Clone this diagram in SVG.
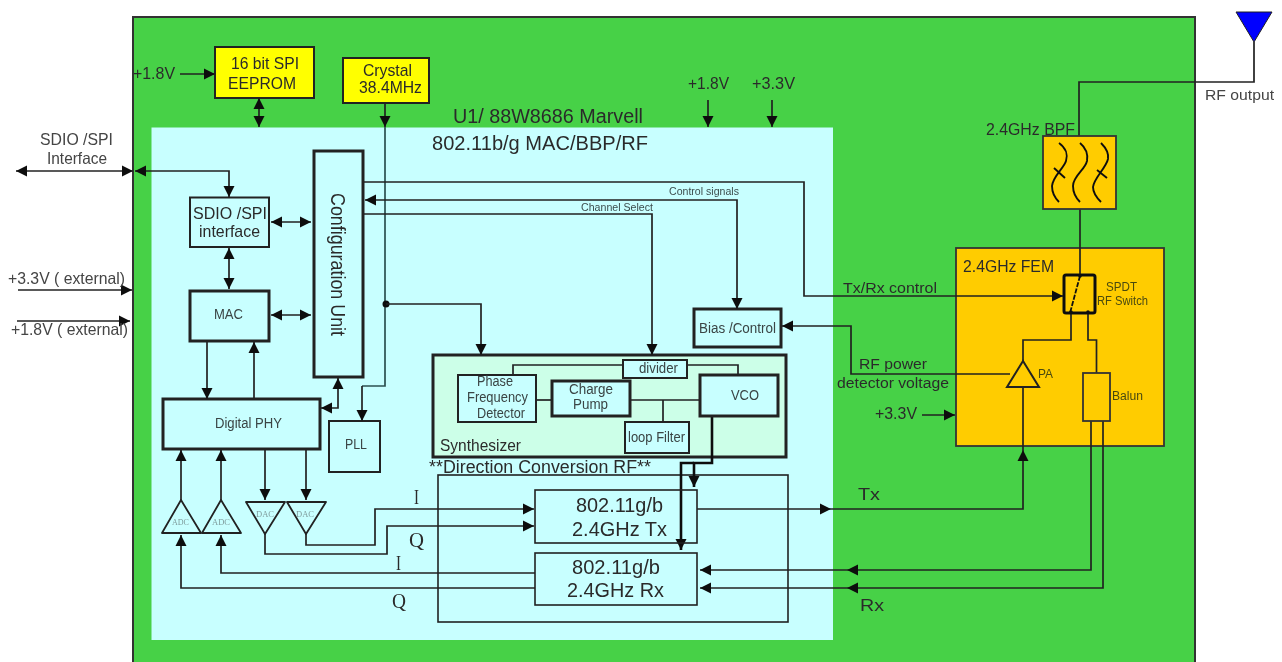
<svg xmlns="http://www.w3.org/2000/svg" width="1282" height="662" viewBox="0 0 1282 662">
<style>
text{font-family:"Liberation Sans",Arial,sans-serif;fill:#2b2b2b}
.s{font-family:"Liberation Serif","Times New Roman",serif}
.f9{font-size:10px;fill:#3d4d4d}.f11{font-size:12px;fill:#4a4a10}.f13{font-size:14px;fill:#3a4444}.f14{font-size:15.500px}.f15{font-size:16.500px}.f16{font-size:17px}.f17{font-size:18px}.f18{font-size:20px}
.tiny{font-family:"Liberation Serif",serif;font-size:9px;fill:#7f9c9c}
.box{fill:#c8ffff;stroke:#222;stroke-width:2}
.thick{stroke-width:3}
.y{fill:#ffff00;stroke:#222;stroke-width:2}
.o{fill:#ffcc00;stroke:#333;stroke-width:1.800}
.w{fill:none;stroke:#222;stroke-width:1.700}
.w2{fill:none;stroke:#111;stroke-width:2.600}
.a{marker-end:url(#ah)}
.aa{marker-start:url(#ah);marker-end:url(#ah)}
.tri{fill:none;stroke:#222;stroke-width:1.800;stroke-linejoin:round}
</style>
<defs>
<marker id="ah" markerUnits="userSpaceOnUse" markerWidth="12" markerHeight="12" refX="11" refY="6" orient="auto-start-reverse"><path d="M0,0.500L11,6L0,11.500Z" fill="#111"/></marker>
<filter id="soft" filterUnits="userSpaceOnUse" x="-20" y="-20" width="1322" height="720"><feGaussianBlur stdDeviation="0.650"/></filter>
</defs>
<rect width="1282" height="662" fill="#ffffff"/>
<g filter="url(#soft)">
<g id="board"><rect x="133" y="17" width="1062" height="665" fill="#47d147" stroke="#333" stroke-width="2"/>
<text class="f18" x="453" y="123" textLength="190" lengthAdjust="spacingAndGlyphs">U1/ 88W8686 Marvell</text></g>
<g id="chip"><rect x="151.500" y="127.500" width="681.500" height="512.500" fill="#c8ffff"/>
<text class="f18" x="432" y="150" textLength="216" lengthAdjust="spacingAndGlyphs">802.11b/g MAC/BBP/RF</text></g>

<g id="fem"><rect class="o" x="956" y="248" width="208" height="198"/><text class="f15" x="963" y="272" textLength="91" lengthAdjust="spacingAndGlyphs">2.4GHz FEM</text></g>

<g id="eeprom"><rect class="y" x="215" y="47" width="99" height="51"/><text class="f16" x="231" y="69" textLength="68" lengthAdjust="spacingAndGlyphs">16 bit SPI</text><text class="f16" x="228" y="89" textLength="68" lengthAdjust="spacingAndGlyphs">EEPROM</text></g>
<g id="crystal"><rect class="y" x="343" y="58" width="86" height="45"/><text class="f16" x="363" y="76" textLength="49" lengthAdjust="spacingAndGlyphs">Crystal</text><text class="f16" x="359" y="93" textLength="63" lengthAdjust="spacingAndGlyphs">38.4MHz</text></g>
<g id="sdio-box"><rect class="box" x="190" y="197.500" width="79" height="49.500"/><text class="f16" x="193" y="219" textLength="74" lengthAdjust="spacingAndGlyphs">SDIO /SPI</text><text class="f16" x="199" y="237" textLength="61" lengthAdjust="spacingAndGlyphs">interface</text></g>
<g id="mac"><rect class="box thick" x="190" y="291" width="79" height="50"/><text class="f13" x="214" y="319" textLength="29" lengthAdjust="spacingAndGlyphs">MAC</text></g>
<g id="config"><rect class="box thick" x="314" y="151" width="49" height="226"/><text class="f18" transform="translate(331,193) rotate(90)" textLength="143" lengthAdjust="spacingAndGlyphs">Configuration Unit</text></g>
<g id="digital-phy"><rect class="box thick" x="163" y="399" width="157" height="50"/><text class="f13" x="215" y="428" textLength="67" lengthAdjust="spacingAndGlyphs">Digital PHY</text></g>
<g id="pll"><rect class="box" x="329" y="421" width="51" height="51"/><text class="f13" x="345" y="449" textLength="22" lengthAdjust="spacingAndGlyphs">PLL</text></g>
<g id="bias"><rect class="box thick" x="694" y="309" width="87" height="38"/><text class="f13" x="699" y="333" textLength="77" lengthAdjust="spacingAndGlyphs">Bias /Control</text></g>

<g id="synth"><rect class="box thick" style="fill:#ccffe8" x="433" y="355" width="353" height="102"/><text class="f15" x="440" y="451" textLength="81" lengthAdjust="spacingAndGlyphs">Synthesizer</text></g>
<g id="direct"><rect fill="none" stroke="#222" stroke-width="1.600" x="438" y="475" width="350" height="147"/><text class="f17" x="429" y="473" textLength="222" lengthAdjust="spacingAndGlyphs">**Direction Conversion RF**</text></g>

<g id="connectors">
<path class="w a" d="M180,74H215"/>
<path class="w aa" d="M259,98V127"/>
<path class="w a" d="M385,103V127"/>
<path class="w" style="stroke:#2c5050" d="M385,127V386H362"/>
<path class="w a" d="M362,386V421"/>
<circle cx="386" cy="304" r="3.500" fill="#111"/>
<path class="w a" d="M386,304H481V355"/>
<path class="w aa" d="M16,171H133"/>
<path class="w aa" d="M135,171H229V197"/>
<path class="w aa" d="M271,222H311"/>
<path class="w aa" d="M229,248V289"/>
<path class="w aa" d="M271,315H311"/>
<path class="w a" d="M18,290H132"/>
<path class="w a" d="M17,321H130"/>
<path class="w a" d="M207,342V399"/>
<path class="w a" d="M254,399V342"/>
<path class="w aa" d="M321,408H338V378"/>
<path class="w a" d="M181,500V450"/>
<path class="w a" d="M221,500V450"/>
<path class="w a" d="M265,450V500"/>
<path class="w a" d="M306,450V500"/>
<path class="w a" d="M306,534V545H375V509H534"/>
<path class="w a" d="M265,534V554H387V526H534"/>
<path class="w a" d="M535,573H221V535"/>
<path class="w a" d="M535,588H181V535"/>
<path class="w a" d="M364,182H804V296H1063"/>
<path class="w aa" d="M365,200H737V309"/>
<path class="w a" d="M364,214H652V355"/>
<path class="w a" d="M708,100V127"/>
<path class="w a" d="M772,100V127"/>
<path class="w a" d="M1010,374H851V326H782"/>
<path class="w a" d="M922,415H955"/>
<path class="w" d="M1079,136V82H1254V42"/>
<path class="w" d="M1080,209V275"/>
<path class="w" d="M1071,313V340H1023V361"/>
<path class="w" d="M1088,313V340H1096.500V373"/>
<path class="w a" d="M697,509H831"/>
<path class="w a" d="M831,509H1023V450"/>
<path class="w" d="M1023,450V387"/>
<path class="w a" d="M1091,421V570H847"/>
<path class="w a" d="M847,570H700"/>
<path class="w a" d="M1103,421V588H847"/>
<path class="w a" d="M847,588H700"/>
<path class="w2 a" d="M712,416V463H694V487"/>
<path class="w2 a" d="M694,463H681V550"/>
<path class="w" d="M623,365H513V375"/>
<path class="w" d="M687,365H738V375"/>
<path class="w" d="M536,400H552"/>
<path class="w" d="M630,400H700"/>
<path class="w" d="M663,400V422"/>
</g>

<g id="phase"><rect class="box" x="458" y="375" width="78" height="47"/><text class="f13" x="477" y="386" textLength="36" lengthAdjust="spacingAndGlyphs">Phase</text><text class="f13" x="467" y="402" textLength="61" lengthAdjust="spacingAndGlyphs">Frequency</text><text class="f13" x="477" y="418" textLength="48" lengthAdjust="spacingAndGlyphs">Detector</text></g>
<g id="charge"><rect class="box thick" x="552" y="381" width="78" height="35"/><text class="f13" x="569" y="394" textLength="44" lengthAdjust="spacingAndGlyphs">Charge</text><text class="f13" x="573" y="409" textLength="35" lengthAdjust="spacingAndGlyphs">Pump</text></g>
<g id="vco"><rect class="box thick" x="700" y="375" width="78" height="41"/><text class="f13" x="731" y="400" textLength="28" lengthAdjust="spacingAndGlyphs">VCO</text></g>
<g id="divider"><rect class="box" x="623" y="360" width="64" height="18"/><text class="f13" x="639" y="373" textLength="39" lengthAdjust="spacingAndGlyphs">divider</text></g>
<g id="loop"><rect class="box" x="625" y="422" width="64" height="31"/><text class="f13" x="628" y="442" textLength="57" lengthAdjust="spacingAndGlyphs">loop Filter</text></g>
<g id="tx"><rect fill="none" stroke="#222" stroke-width="1.600" x="535" y="490" width="162" height="53"/><text class="f18" x="576" y="512" textLength="87" lengthAdjust="spacingAndGlyphs">802.11g/b</text><text class="f18" x="572" y="536" textLength="95" lengthAdjust="spacingAndGlyphs">2.4GHz Tx</text></g>
<g id="rx"><rect fill="#c8ffff" stroke="#222" stroke-width="1.600" x="535" y="553" width="162" height="52"/><text class="f18" x="572" y="574" textLength="88" lengthAdjust="spacingAndGlyphs">802.11g/b</text><text class="f18" x="567" y="597" textLength="97" lengthAdjust="spacingAndGlyphs">2.4GHz Rx</text></g>

<g id="adc1"><path class="tri" d="M181,500L162,533H201Z"/><text class="tiny" x="172" y="525" textLength="17" lengthAdjust="spacingAndGlyphs">ADC</text></g>
<g id="adc2"><path class="tri" d="M221,500L202,533H241Z"/><text class="tiny" x="212" y="525" textLength="18" lengthAdjust="spacingAndGlyphs">ADC</text></g>
<g id="dac1"><path class="tri" d="M246,502H285L265,534Z"/><text class="tiny" x="256" y="517" textLength="18" lengthAdjust="spacingAndGlyphs">DAC</text></g>
<g id="dac2"><path class="tri" d="M287,502H326L306,534Z"/><text class="tiny" x="296" y="517" textLength="18" lengthAdjust="spacingAndGlyphs">DAC</text></g>

<g id="bpf"><rect class="o" x="1043" y="136" width="73" height="73"/>
<text class="f15" x="986" y="135" textLength="89" lengthAdjust="spacingAndGlyphs">2.4GHz BPF</text>
<path fill="none" stroke="#111" stroke-width="1.900" d="M1059,143C1066,148 1068,155 1066,161C1064,168 1053,176 1052,186C1052,193 1055,198 1059,202M1054,168L1065,178M1080,143C1086,148 1088,155 1087,161C1085,170 1073,176 1073,186C1073,193 1076,198 1080,202M1101,143C1106,148 1109,153 1108,159C1106,168 1094,178 1093,187C1093,193 1097,198 1101,202M1097,170L1107,178"/></g>
<g id="switch"><rect fill="none" stroke="#111" stroke-width="3" rx="2" x="1064" y="275" width="31" height="38"/>
<path fill="none" stroke="#111" stroke-width="1.800" stroke-dasharray="5 1.500" d="M1080,276L1070,313"/>
<circle cx="1080" cy="276" r="1.800" fill="#111"/><circle cx="1071" cy="312" r="1.800" fill="#111"/><circle cx="1088" cy="312" r="1.800" fill="#111"/>
<text class="f11" x="1106" y="291" textLength="31" lengthAdjust="spacingAndGlyphs">SPDT</text><text class="f11" x="1097" y="305" textLength="51" lengthAdjust="spacingAndGlyphs">RF Switch</text></g>
<g id="pa"><path fill="#ffcc00" stroke="#222" stroke-width="2" d="M1023,361L1007,387H1039Z"/><text class="f11" x="1038" y="378" textLength="15" lengthAdjust="spacingAndGlyphs">PA</text></g>
<g id="balun"><rect class="o" x="1083" y="373" width="27" height="48"/><text class="f11" x="1112" y="400" textLength="31" lengthAdjust="spacingAndGlyphs">Balun</text></g>
<g id="antenna"><path d="M1236,12H1272L1254,42Z" fill="#0000ff" stroke="#222" stroke-width="1"/><text class="f14" x="1205" y="100" textLength="69" lengthAdjust="spacingAndGlyphs" style="fill:#444">RF output</text></g>

<g id="labels">
<text class="f15" x="133" y="79" textLength="42" lengthAdjust="spacingAndGlyphs">+1.8V</text>
<text class="f15" x="688" y="89" textLength="41" lengthAdjust="spacingAndGlyphs">+1.8V</text>
<text class="f15" x="752" y="89" textLength="43" lengthAdjust="spacingAndGlyphs">+3.3V</text>
<text class="f15" x="875" y="419" textLength="42" lengthAdjust="spacingAndGlyphs">+3.3V</text>
<text class="f15" x="40" y="145" textLength="73" lengthAdjust="spacingAndGlyphs" style="fill:#444">SDIO /SPI</text>
<text class="f15" x="47" y="164" textLength="60" lengthAdjust="spacingAndGlyphs" style="fill:#444">Interface</text>
<text class="f15" x="8" y="284" textLength="117" lengthAdjust="spacingAndGlyphs" style="fill:#444">+3.3V ( external)</text>
<text class="f15" x="11" y="335" textLength="117" lengthAdjust="spacingAndGlyphs" style="fill:#444">+1.8V ( external)</text>
<text class="f9" x="669" y="195" textLength="70" lengthAdjust="spacingAndGlyphs">Control signals</text>
<text class="f9" x="581" y="211" textLength="72" lengthAdjust="spacingAndGlyphs">Channel Select</text>
<text class="f14" x="843" y="293" textLength="94" lengthAdjust="spacingAndGlyphs">Tx/Rx control</text>
<text class="f14" x="859" y="369" textLength="68" lengthAdjust="spacingAndGlyphs">RF power</text>
<text class="f14" x="837" y="388" textLength="112" lengthAdjust="spacingAndGlyphs">detector voltage</text>
<text class="f16" x="858" y="500" textLength="22" lengthAdjust="spacingAndGlyphs">Tx</text>
<text class="f16" x="860" y="611" textLength="24" lengthAdjust="spacingAndGlyphs">Rx</text>
<text class="s f18" x="414" y="504" textLength="5" lengthAdjust="spacingAndGlyphs">I</text>
<text class="s f18" x="409" y="547" textLength="15" lengthAdjust="spacingAndGlyphs">Q</text>
<text class="s f18" x="396" y="570" textLength="5" lengthAdjust="spacingAndGlyphs">I</text>
<text class="s f18" x="392" y="608" textLength="14" lengthAdjust="spacingAndGlyphs">Q</text>
</g>
</g>
</svg>
